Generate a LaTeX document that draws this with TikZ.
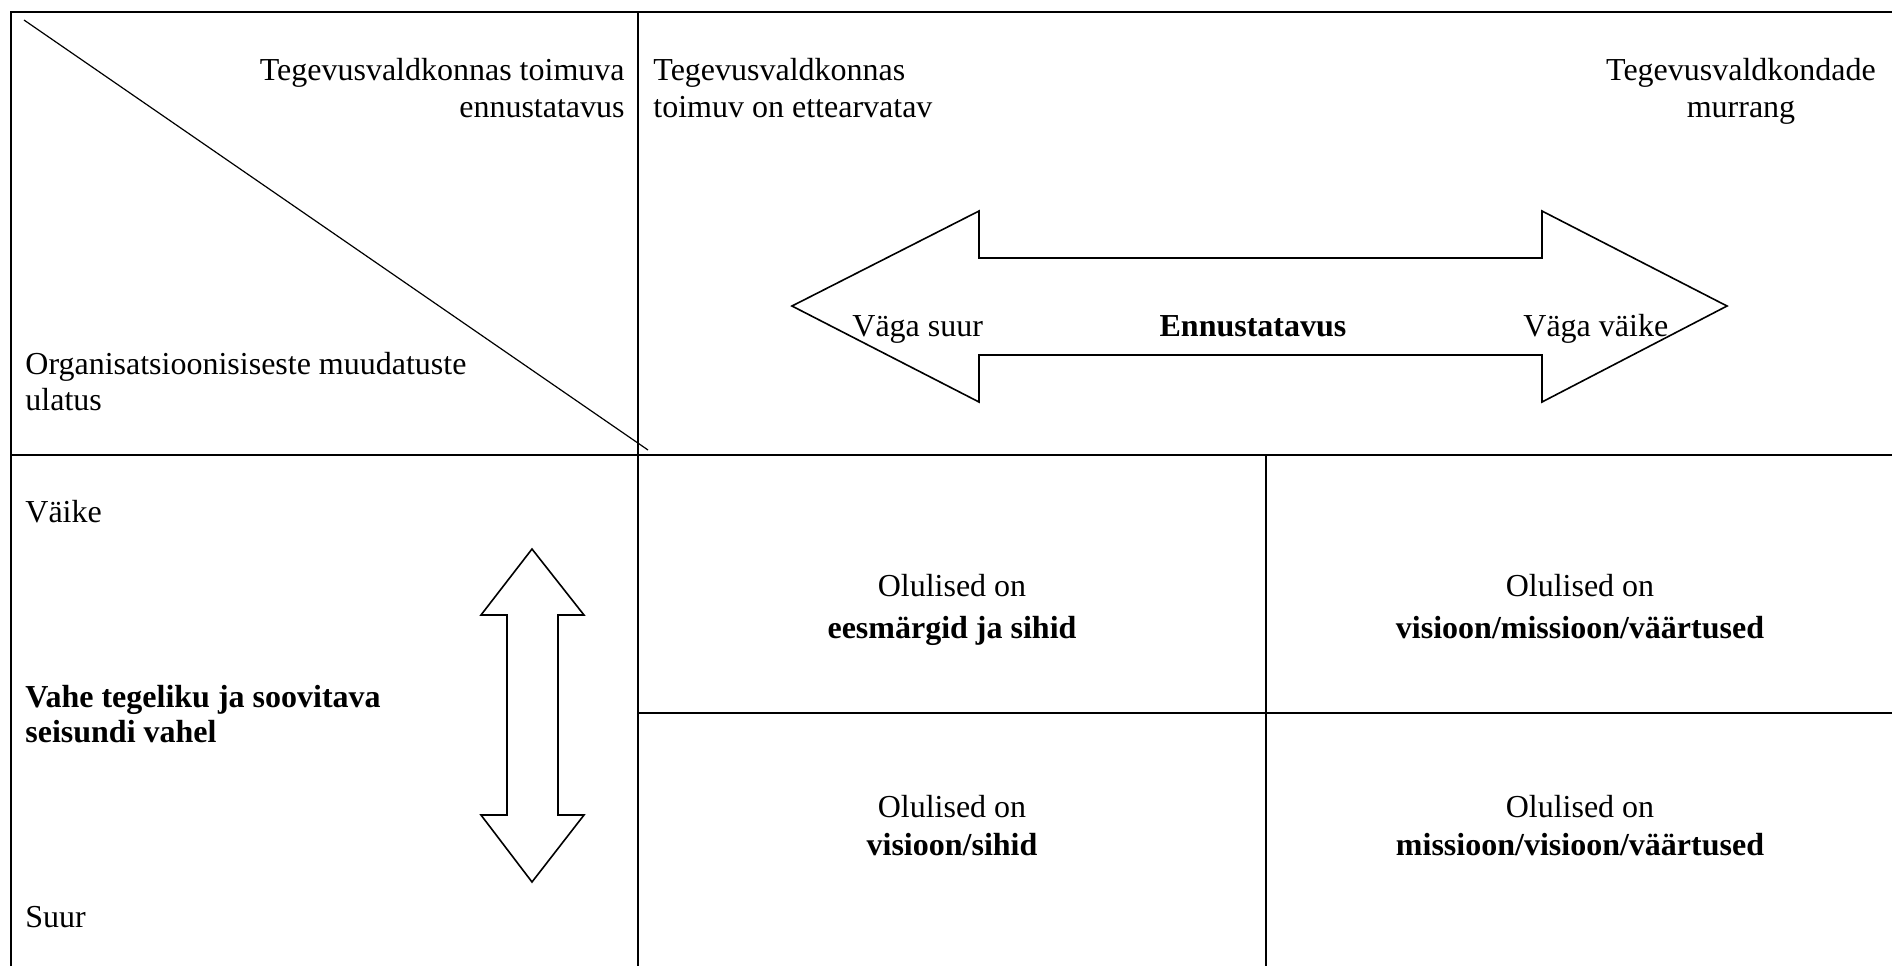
\documentclass[tikz,border=0pt]{standalone}
\usepackage{fontspec}
\setmainfont{Liberation Serif}
\begin{document}
\begin{tikzpicture}[x=0.5pt,y=-0.5pt,
  frame/.style={line width=1.1pt},
  rule/.style={line width=0.85pt},
  diag/.style={line width=0.6pt},
  bigarrow/.style={line width=0.8pt, line join=miter, fill=white},
  lbl/.style={inner sep=0pt, font=\fontsize{16}{18}\selectfont},
  lblb/.style={inner sep=0pt, font=\fontsize{16}{18}\selectfont\bfseries}]
\useasboundingbox (0,0) rectangle (1892,966);

% table grid
\draw[frame] (11,966) -- (11,12) -- (1892,12);
\draw[frame] (11,455) -- (1266,455);
\draw[rule] (1266,455) -- (1892,455);
\draw[rule] (638,12) -- (638,966);
\draw[rule] (1266,455) -- (1266,966);
\draw[rule] (638,713) -- (1892,713);
\draw[diag] (24,20) -- (648,450);

% corner cell
\node[lbl, anchor=base east] (hdA1) at (625,80) {Tegevusvaldkonnas toimuva};
\node[lbl, anchor=base east] (hdA2) at (625,117) {ennustatavus};
\node[lbl, anchor=base west] (hdB1) at (25,374) {Organisatsioonisiseste muudatuste};
\node[lbl, anchor=base west] (hdB2) at (25,410) {ulatus};

% top header: predictability scale
\node[lbl, anchor=base west] (pl1) at (653,80) {Tegevusvaldkonnas};
\node[lbl, anchor=base west] (pl2) at (653,117) {toimuv on ettearvatav};
\node[lbl, anchor=base] (pr1) at (1741,80) {Tegevusvaldkondade};
\node[lbl, anchor=base] (pr2) at (1741,117) {murrang};

\draw[bigarrow] (792,306) -- (979,211) -- (979,258) -- (1542,258) -- (1542,211)
  -- (1727,306) -- (1542,402) -- (1542,355) -- (979,355) -- (979,402) -- cycle;
\node[lbl, anchor=base west] (vs) at (852,336) {Väga suur};
\node[lblb, anchor=base] (en) at (1253,336) {Ennustatavus};
\node[lbl, anchor=base west] (vv) at (1523,336) {Väga väike};

% left header: gap between actual and desired state
\node[lbl, anchor=base west] (small) at (25,522) {Väike};
\node[lblb, anchor=base west] (gap1) at (25,707) {Vahe tegeliku ja soovitava};
\node[lblb, anchor=base west] (gap2) at (25,742) {seisundi vahel};
\node[lbl, anchor=base west] (large) at (25,927) {Suur};

\draw[bigarrow] (532,549) -- (584,615) -- (558,615) -- (558,815) -- (584,815)
  -- (532,882) -- (481,815) -- (507,815) -- (507,615) -- (481,615) -- cycle;

% body cells
\node[lbl, anchor=base] (c11a) at (952,596) {Olulised on};
\node[lblb, anchor=base] (c11b) at (952,638) {eesmärgid ja sihid};
\node[lbl, anchor=base] (c12a) at (1580,596) {Olulised on};
\node[lblb, anchor=base] (c12b) at (1580,638) {visioon/missioon/väärtused};
\node[lbl, anchor=base] (c21a) at (952,817) {Olulised on};
\node[lblb, anchor=base] (c21b) at (952,855) {visioon/sihid};
\node[lbl, anchor=base] (c22a) at (1580,817) {Olulised on};
\node[lblb, anchor=base] (c22b) at (1580,855) {missioon/visioon/väärtused};
\end{tikzpicture}
\end{document}
